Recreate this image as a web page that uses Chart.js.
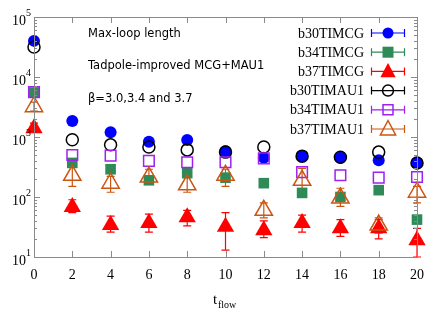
<!DOCTYPE html>
<html>
<head>
<meta charset="utf-8">
<script src="https://cdn.jsdelivr.net/npm/chart.js@4"></script>
<style>
  html, body { margin: 0; padding: 0; background: #fff; }
  #wrap { width: 436px; height: 327px; }
</style>
</head>
<body>
<div id="wrap"><canvas id="loopChart"></canvas></div>
<script>
// flow times
const tFlow = [0, 2, 4, 6, 8, 10, 12, 14, 16, 18, 20];

// max-loop length per series
const b30TIMCG  = [40000, 1850, 1200, 830, 890, 580, 450, 480, 450, 410, 370];
const b34TIMCG  = [5500, 370, 290, 190, 250, 210, 170, 117, 100, 130, 42];
const b37TIMCG  = [1400, 68, 34, 37, 46, 32, 28, 37, 30, 30, 19];
const b30TIMAU1 = [31600, 900, 740, 680, 610, 560, 680, 480, 460, 560, 370];
const b34TIMAU1 = [5600, 500, 490, 400, 380, 380, 440, 260, 230, 210, 215];
const b37TIMAU1 = [3200, 230, 170, 215, 160, 230, 60, 190, 96, 34, 120];

// error bars (low / high) where they are visible
const b37TIMCGLo  = [1200, 55, 26, 26, 33, 13, 21, 26, 22, 20, 10];
const b37TIMCGHi  = [1700, 90, 48, 52, 60, 55, 40, 50, 42, 42, 30];
const b37TIMAU1Lo = [2700, 150, 120, 170, 120, 150, 45, 100, 70, 25, 80];
const b37TIMAU1Hi = [3800, 330, 220, 290, 210, 290, 80, 300, 140, 45, 150];

// y tick exponents
const yExponents = [1, 2, 3, 4, 5];

const annotations = ['Max-loop length', 'Tadpole-improved MCG+MAU1', 'β=3.0,3.4 and 3.7'];

// r = point radius on the plot, lr = legend marker half size
const series = [
    { label: 'b30TIMCG',  data: b30TIMCG,  color: '#0000ff', style: 'circle',   r: 6,   lr: 5.5, fill: true },
    { label: 'b34TIMCG',  data: b34TIMCG,  color: '#2e8b57', style: 'rect',     r: 7.5, lr: 5.5, fill: true },
    { label: 'b37TIMCG',  data: b37TIMCG,  color: '#ff0000', style: 'triangle', r: 10,  lr: 8.5, fill: true, lo: b37TIMCGLo, hi: b37TIMCGHi },
    { label: 'b30TIMAU1', data: b30TIMAU1, color: '#000000', style: 'circle',   r: 6,   lr: 5.5, fill: false },
    { label: 'b34TIMAU1', data: b34TIMAU1, color: '#a020f0', style: 'rect',     r: 7.5, lr: 5,   fill: false },
    { label: 'b37TIMAU1', data: b37TIMAU1, color: '#cc5511', style: 'triangle', r: 10,  lr: 8.5, fill: false, lo: b37TIMAU1Lo, hi: b37TIMAU1Hi }
];

const GRAY = '#8a8a8a';

function drawMarker(ctx, s, x, y) {
    const r = s.lr;
    ctx.save();
    ctx.strokeStyle = s.color;
    ctx.fillStyle = s.color;
    ctx.lineWidth = 1.5;
    ctx.beginPath();
    if (s.style === 'circle') {
        ctx.arc(x, y, r, 0, Math.PI * 2);
    } else if (s.style === 'rect') {
        ctx.rect(x - r, y - r, r * 2, r * 2);
    } else {
        ctx.moveTo(x, y - r);
        ctx.lineTo(x + r * 0.9, y + r * 0.7);
        ctx.lineTo(x - r * 0.9, y + r * 0.7);
        ctx.closePath();
    }
    if (s.fill) ctx.fill(); else ctx.stroke();
    ctx.restore();
}

// error bars, frame ticks, y labels, legend, text
const decorations = {
    id: 'decorations',
    beforeDatasetsDraw(chart) {
        const ctx = chart.ctx;
        const ys = chart.scales.y;
        ctx.save();
        ctx.lineWidth = 1.2;
        series.forEach((s, di) => {
            if (!s.lo) return;
            const meta = chart.getDatasetMeta(di);
            ctx.strokeStyle = s.color;
            meta.data.forEach((pt, i) => {
                const y1 = ys.getPixelForValue(s.lo[i]);
                const y2 = ys.getPixelForValue(s.hi[i]);
                ctx.beginPath();
                ctx.moveTo(pt.x, y1); ctx.lineTo(pt.x, y2);
                ctx.moveTo(pt.x - 4, y1); ctx.lineTo(pt.x + 4, y1);
                ctx.moveTo(pt.x - 4, y2); ctx.lineTo(pt.x + 4, y2);
                ctx.stroke();
            });
        });
        ctx.restore();
    },
    afterDraw(chart) {
        const ctx = chart.ctx;
        const a = chart.chartArea;
        const xs = chart.scales.x;
        const ys = chart.scales.y;
        ctx.save();

        // frame
        ctx.strokeStyle = GRAY;
        ctx.lineWidth = 1;
        ctx.strokeRect(a.left + 0.5, a.top + 0.5, a.right - a.left, a.bottom - a.top);

        // x ticks, bottom and top
        ctx.beginPath();
        tFlow.forEach(v => {
            const x = Math.round(xs.getPixelForValue(v)) + 0.5;
            ctx.moveTo(x, a.bottom); ctx.lineTo(x, a.bottom - 6);
            ctx.moveTo(x, a.top); ctx.lineTo(x, a.top + 6);
        });
        // y ticks, major and minor, left and right
        yExponents.forEach(e => {
            for (let m = 1; m <= 9; m++) {
                const v = m * Math.pow(10, e);
                if (v > 1e5) break;
                const y = Math.round(ys.getPixelForValue(v)) + 0.5;
                const len = m === 1 ? 6 : 3;
                ctx.moveTo(a.left, y); ctx.lineTo(a.left + len, y);
                ctx.moveTo(a.right, y); ctx.lineTo(a.right - len, y);
            }
        });
        ctx.stroke();

        // y labels 10^n
        ctx.fillStyle = '#000';
        yExponents.forEach(e => {
            const y = ys.getPixelForValue(Math.pow(10, e));
            ctx.font = '14px "Liberation Serif"';
            ctx.textAlign = 'right';
            ctx.textBaseline = 'middle';
            ctx.fillText('10', a.left - 8, y + 4);
            ctx.font = '10px "Liberation Serif"';
            ctx.textAlign = 'left';
            ctx.fillText(String(e), a.left - 8, y - 4);
        });

        // x title t_flow
        ctx.textAlign = 'left';
        ctx.textBaseline = 'alphabetic';
        ctx.font = '15px "Liberation Serif"';
        ctx.fillText('t', 213, 304);
        ctx.font = '10px "Liberation Serif"';
        ctx.fillText('flow', 218, 308);

        // annotation text
        ctx.font = '11.5px "DejaVu Sans"';
        ctx.textBaseline = 'middle';
        annotations.forEach((t, i) => ctx.fillText(t, 88, 34 + i * 32.5));

        // legend
        series.forEach((s, i) => {
            const y = 33 + i * 19.2;
            ctx.fillStyle = '#000';
            ctx.font = '14px "Liberation Serif"';
            ctx.textAlign = 'right';
            ctx.textBaseline = 'middle';
            ctx.fillText(s.label, 364, y + 1);
            ctx.strokeStyle = s.color;
            ctx.lineWidth = 1.2;
            ctx.beginPath();
            ctx.moveTo(371, y); ctx.lineTo(405, y);
            ctx.moveTo(371.5, y - 4); ctx.lineTo(371.5, y + 4);
            ctx.moveTo(404.5, y - 4); ctx.lineTo(404.5, y + 4);
            ctx.stroke();
            drawMarker(ctx, s, 388, y);
        });
        ctx.restore();
    }
};

new Chart(document.getElementById('loopChart'), {
    type: 'scatter',
    data: {
        datasets: series.map((s, i) => ({
            label: s.label,
            data: s.data.map((v, j) => ({ x: tFlow[j], y: v })),
            pointStyle: s.style,
            pointRadius: s.r,
            borderColor: s.color,
            backgroundColor: s.fill ? s.color : 'rgba(0,0,0,0)',
            pointBorderWidth: s.fill ? 0 : 1.5,
            clip: false,
            order: series.length - i
        }))
    },
    options: {
        responsive: true,
        maintainAspectRatio: false,
        animation: false,
        layout: { padding: { left: 0, right: 19, top: 17, bottom: 0 } },
        scales: {
            x: {
                type: 'linear',
                min: 0,
                max: 20,
                afterBuildTicks: scale => { scale.ticks = tFlow.map(v => ({ value: v })); },
                afterFit: scale => { scale.height = 70; },
                grid: { display: false, drawTicks: false },
                border: { display: false },
                ticks: {
                    padding: 10,
                    color: '#000',
                    font: { family: 'Liberation Serif', size: 14 }
                }
            },
            y: {
                type: 'logarithmic',
                min: 10,
                max: 100000,
                afterFit: scale => { scale.width = 34; },
                grid: { display: false, drawTicks: false },
                border: { display: false },
                ticks: { display: false }
            }
        },
        plugins: {
            legend: { display: false },
            tooltip: { enabled: false }
        }
    },
    plugins: [decorations]
});
</script>
</body>
</html>
